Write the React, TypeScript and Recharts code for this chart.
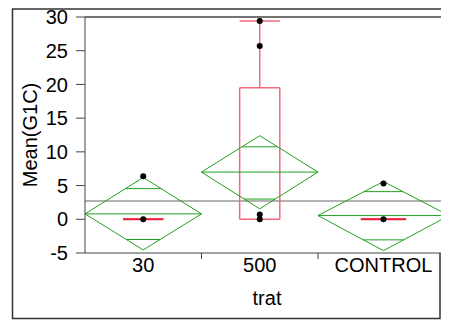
import React from "react";
import { ComposedChart, XAxis, YAxis, Scatter, ReferenceLine, Customized } from "recharts";

const categories = ["30", "500", "CONTROL"];
const counts = [8, 8, 9];
const means = [0.8, 7.0, 0.55];
const diamondTop = [6.2, 12.4, 5.6];
const diamondBottom = [-4.55, 1.55, -4.65];
const overlapHigh = [4.55, 10.75, 4.1];
const overlapLow = [-3.0, 3.0, -3.05];
const boxLow = [0, 0, 0];
const boxHigh = [0, 19.5, 0];
const medians = [0, 0, 0];
const whiskerHigh = [0, 29.4, 0];
const points30 = [0, 6.4];
const points500 = [0, 0.7, 25.7, 29.4];
const pointsControl = [0, 5.3];
const grandMean = 2.7;
const yTicks = [-5, 0, 5, 10, 15, 20, 25, 30];

const GREEN = "#22a022";
const PINK = "#f06a7a";
const RED = "#e82238";
const AXIS = "#444";
const FONT = "'Liberation Sans', Arial, sans-serif";
const FS = 20;

const total = counts.reduce((a, b) => a + b, 0);
const starts = counts.map((_, i) => counts.slice(0, i).reduce((a, b) => a + b, 0));
const centers = counts.map((n, i) => starts[i] + n / 2);
const boundaries = starts.slice(1);
const pointGroups = [points30, points500, pointsControl];
const pointData = pointGroups.flatMap((vals, i) => vals.map((y) => ({ x: centers[i], y })));

const XTick = (props: any) => {
  const { x, y, payload } = props;
  const idx = centers.indexOf(payload.value);
  if (idx < 0) {
    return <line x1={x} x2={x} y1={y - 6} y2={y} stroke={AXIS} />;
  }
  return (
    <text x={x} y={y + 13} textAnchor="middle" fontSize={FS} fontFamily={FONT} fill="#000">
      {categories[idx]}
    </text>
  );
};

const Dot = (props: any) => <circle cx={props.cx} cy={props.cy} r={3} fill="#000" />;

// outer report frame (page clips above y=8 and right of x=441)
const Frame = () => (
  <path d="M441 9 H12.5 V318.5 H440 V253" fill="none" stroke="#333" strokeWidth={1.5} />
);

const seg = (key: string, x1: number, y1: number, x2: number, y2: number, stroke: string, w = 1) => (
  <ReferenceLine
    key={key}
    segment={[{ x: x1, y: y1 }, { x: x2, y: y2 }]}
    stroke={stroke}
    strokeWidth={w}
    ifOverflow="visible"
  />
);

const App = () => {
  const lines: React.ReactNode[] = [];
  categories.forEach((c, i) => {
    const L = starts[i];
    const R = starts[i] + counts[i];
    const C = centers[i];
    const half = counts[i] / 2;
    const m = means[i];
    // box plot
    const bw = (counts[i] * 0.345) / 2;
    lines.push(seg(`bl${i}`, C - bw, boxLow[i], C - bw, boxHigh[i], PINK, 1.5));
    lines.push(seg(`br${i}`, C + bw, boxLow[i], C + bw, boxHigh[i], PINK, 1.5));
    lines.push(seg(`bt${i}`, C - bw, boxHigh[i], C + bw, boxHigh[i], PINK, 1.5));
    lines.push(seg(`bb${i}`, C - bw, boxLow[i], C + bw, boxLow[i], PINK, 1.5));
    if (whiskerHigh[i] > boxHigh[i]) {
      lines.push(seg(`wh${i}`, C, boxHigh[i], C, whiskerHigh[i], PINK, 1.5));
      lines.push(seg(`wc${i}`, C - bw, whiskerHigh[i], C + bw, whiskerHigh[i], PINK, 1.5));
    }
    if (boxHigh[i] === boxLow[i]) {
      lines.push(seg(`md${i}`, C - bw, medians[i], C + bw, medians[i], RED, 2));
    }
    // means diamond
    lines.push(seg(`d1${i}`, L, m, C, diamondTop[i], GREEN));
    lines.push(seg(`d2${i}`, C, diamondTop[i], R, m, GREEN));
    lines.push(seg(`d3${i}`, R, m, C, diamondBottom[i], GREEN));
    lines.push(seg(`d4${i}`, C, diamondBottom[i], L, m, GREEN));
    lines.push(seg(`mn${i}`, L, m, R, m, GREEN));
    const fh = (diamondTop[i] - overlapHigh[i]) / (diamondTop[i] - m);
    const fl = (overlapLow[i] - diamondBottom[i]) / (m - diamondBottom[i]);
    lines.push(seg(`oh${i}`, C - half * fh, overlapHigh[i], C + half * fh, overlapHigh[i], GREEN));
    lines.push(seg(`ol${i}`, C - half * fl, overlapLow[i], C + half * fl, overlapLow[i], GREEN));
  });

  return (
    <div style={{ width: 449, height: 320, margin: "-8px -8px 0 -8px", fontFamily: FONT }}>
      <ComposedChart width={449} height={320} margin={{ top: 17, right: 0, bottom: 0, left: 0 }}>
        <XAxis
          type="number"
          dataKey="x"
          domain={[0, total]}
          allowDataOverflow
          ticks={[...boundaries, ...centers]}
          interval={0}
          tick={<XTick />}
          tickLine={false}
          tickSize={6}
          tickMargin={0}
          height={67}
          stroke={AXIS}
          label={{ value: "trat", position: "insideBottom", offset: 15, fontSize: FS, fill: "#000", fontFamily: FONT }}
        />
        <YAxis
          type="number"
          dataKey="y"
          domain={[-5, 30]}
          allowDataOverflow
          ticks={yTicks}
          interval={0}
          width={85}
          tickSize={9}
          tickMargin={8}
          stroke={AXIS}
          tick={{ fontSize: FS, fill: "#000", fontFamily: FONT }}
          label={{
            value: "Mean(G1C)",
            angle: -90,
            position: "insideLeft",
            offset: 30,
            fontSize: FS,
            fill: "#000",
            fontFamily: FONT,
            style: { textAnchor: "middle" },
          }}
        />
        <Customized component={Frame} />
        <ReferenceLine y={30} stroke={AXIS} strokeWidth={1.5} />
        <ReferenceLine y={grandMean} stroke="#999" strokeWidth={1.5} />
        {lines}
        <Scatter data={pointData} dataKey="y" shape={<Dot />} isAnimationActive={false} />
      </ComposedChart>
    </div>
  );
};

export default App;
